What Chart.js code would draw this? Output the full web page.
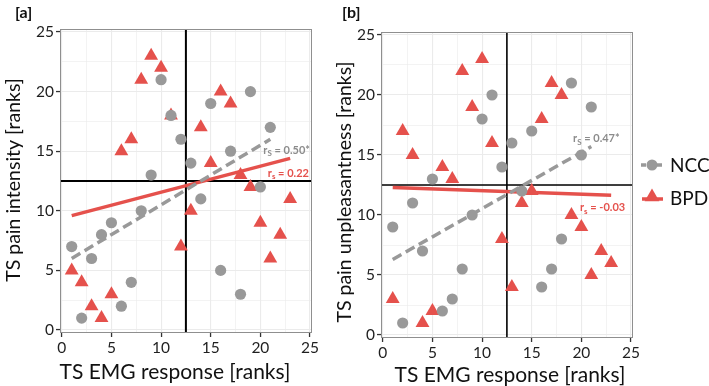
<!DOCTYPE html>
<html lang="en">
<head>
  <meta charset="UTF-8">
  <title>TS EMG response vs TS pain ranks</title>
  <script src="https://cdn.jsdelivr.net/npm/chart.js"></script>
  <style>
    html, body { margin: 0; padding: 0; background: #fff; }
    #wrap { position: relative; width: 709px; height: 386px; }
    canvas { position: absolute; top: 0; }
  </style>
</head>
<body>
  <div id="wrap">
    <canvas id="chartA" width="330" height="386" style="left:0px"></canvas>
    <canvas id="chartB" width="379" height="386" style="left:330px"></canvas>
  </div>

  <script>
    // TS EMG response ranks (x) and pain ranks (y) per group
    const nccEmg = [1, 2, 3, 4, 5, 6, 7, 8, 9, 10, 11, 12, 13, 14, 15, 16, 17, 18, 19, 20, 21];
    const nccIntensity = [7, 1, 6, 8, 9, 2, 4, 10, 13, 21, 18, 16, 14, 11, 19, 5, 15, 3, 20, 12, 17];
    const nccUnpleasant = [9, 1, 11, 7, 13, 2, 3, 5.5, 10, 18, 20, 14, 16, 12, 17, 4, 5.5, 8, 21, 15, 19];

    const bpdEmg = [1, 2, 3, 4, 5, 6, 7, 8, 9, 10, 11, 12, 13, 14, 15, 16, 17, 18, 19, 20, 21, 22, 23];
    const bpdIntensity = [5, 4, 2, 1, 3, 15, 16, 21, 23, 22, 18, 7, 10, 17, 14, 20, 19, 13, 12, 9, 6, 8, 11];
    const bpdUnpleasant = [3, 17, 15, 1, 2, 14, 13, 22, 19, 23, 16, 8, 4, 11, 12, 18, 21, 20, 10, 9, 5, 7, 6];

    // fitted lines, end points
    const nccFitX = [1, 21];
    const nccFitIntensity = [6, 16];
    const nccFitUnpleasant = [6.3, 15.7];
    const bpdFitX = [1, 23];
    const bpdFitIntensity = [9.6, 14.4];
    const bpdFitUnpleasant = [12.3, 11.65];

    // median split lines
    const medianRank = 12.5;

    // correlation labels
    const rsLabelsA = [['S', ' = 0.50*'], ['s', ' = 0.22']];
    const rsLabelsB = [['S', ' = 0.47*'], ['s', ' = -0.03']];

    const AXIS_MIN = -0.18, AXIS_MAX = 25.2;
    const Y_MIN = -0.25, Y_MAX = 25.25;
    const FONT = 'Lato';
    const GREY = '#999999';
    const RED = '#e5514c';

    const toPts = (xs, ys) => xs.map((x, i) => ({ x: x, y: ys[i] }));
    const isMajor = v => Math.abs(v / 5 - Math.round(v / 5)) < 1e-6;

    function axis(pos, fitSize) {
      return {
        type: 'linear',
        position: pos,
        min: pos === 'left' ? Y_MIN : AXIS_MIN,
        max: pos === 'left' ? Y_MAX : AXIS_MAX,
        border: { display: false },
        grid: {
          color: '#ebebeb',
          lineWidth: c => (c.tick && isMajor(c.tick.value)) ? 1.1 : 0.6,
          tickLength: 4,
          tickWidth: 1.3,
          tickColor: c => (c.tick && isMajor(c.tick.value)) ? '#333' : 'rgba(0,0,0,0)'
        },
        ticks: {
          stepSize: 2.5,
          includeBounds: false,
          autoSkip: false,
          maxRotation: 0,
          padding: 2,
          color: '#1f1f1f',
          font: { family: FONT, size: 15.5 },
          callback: v => isMajor(v) ? v : ''
        },
        afterFit: s => {
          if (pos === 'left') s.width = fitSize; else s.height = fitSize;
        }
      };
    }

    // draws "r" with subscript then the rest
    function drawRs(ctx, x, y, sub, rest, color) {
      ctx.fillStyle = color;
      ctx.textAlign = 'left';
      ctx.textBaseline = 'alphabetic';
      ctx.font = 'bold 11px ' + FONT;
      ctx.fillText('r', x, y);
      let w = ctx.measureText('r').width;
      ctx.font = 'bold 8px ' + FONT;
      ctx.fillText(sub, x + w, y + 2.5);
      w += ctx.measureText(sub).width;
      ctx.font = 'bold 11px ' + FONT;
      ctx.fillText(rest, x + w, y);
    }

    function makePanel(id, p) {
      const ctx = document.getElementById(id).getContext('2d');

      const decor = {
        id: 'decor',
        afterDatasetsDraw(chart) {
          const c = chart.ctx, a = chart.chartArea;
          const sx = chart.scales.x, sy = chart.scales.y;
          c.save();
          // panel border
          c.strokeStyle = '#8f8f8f';
          c.lineWidth = 1;
          c.strokeRect(a.left + 0.5, a.top + 0.5, a.right - a.left - 1, a.bottom - a.top - 1);
          // rs labels
          drawRs(c, sx.getPixelForValue(p.greyLabelAt[0]), sy.getPixelForValue(p.greyLabelAt[1]),
            p.labels[0][0], p.labels[0][1], '#8c8c8c');
          drawRs(c, sx.getPixelForValue(p.redLabelAt[0]), sy.getPixelForValue(p.redLabelAt[1]),
            p.labels[1][0], p.labels[1][1], RED);
          c.restore();
        },
        afterDraw(chart) {
          const c = chart.ctx;
          c.save();
          c.fillStyle = '#111';
          // panel tag
          c.font = 'bold 16px ' + FONT;
          c.textAlign = 'left';
          c.textBaseline = 'middle';
          c.fillText(p.tag, p.tagPos[0], p.tagPos[1]);
          // axis titles
          c.font = '21px ' + FONT;
          c.textAlign = 'center';
          c.fillText('TS EMG response [ranks]', p.xTitlePos[0], p.xTitlePos[1]);
          c.font = '19.5px ' + FONT;
          c.translate(p.yTitlePos[0], p.yTitlePos[1]);
          c.rotate(-Math.PI / 2);
          c.fillText(p.yTitle, 0, 0);
          c.restore();

          if (p.legend) {
            c.save();
            // NCC key
            c.strokeStyle = GREY;
            c.lineWidth = 3.5;
            c.setLineDash([5, 3]);
            c.beginPath(); c.moveTo(311, 165); c.lineTo(334, 165); c.stroke();
            c.setLineDash([]);
            c.fillStyle = GREY;
            c.beginPath(); c.arc(322, 165, 5.5, 0, Math.PI * 2); c.fill();
            // BPD key
            c.strokeStyle = RED;
            c.beginPath(); c.moveTo(312, 199); c.lineTo(333, 199); c.stroke();
            c.fillStyle = RED;
            const r = 8.5;
            c.beginPath();
            c.moveTo(322, 197 - r);
            c.lineTo(322 + r * 0.866, 197 + r / 2);
            c.lineTo(322 - r * 0.866, 197 + r / 2);
            c.closePath(); c.fill();
            c.fillStyle = '#111';
            c.font = '19px ' + FONT;
            c.textAlign = 'left';
            c.textBaseline = 'middle';
            c.fillText('NCC', 340, 166);
            c.fillText('BPD', 340, 199);
            c.restore();
          }
        }
      };

      new Chart(ctx, {
        type: 'scatter',
        data: {
          datasets: [{
            label: 'NCC',
            data: toPts(nccEmg, p.ncc),
            backgroundColor: GREY,
            borderWidth: 0,
            pointStyle: 'circle',
            pointRadius: 5.6
          }, {
            label: 'BPD',
            data: toPts(bpdEmg, p.bpd),
            backgroundColor: RED,
            borderWidth: 0,
            pointStyle: 'triangle',
            pointRadius: 8
          }, {
            type: 'line',
            label: 'NCC fit',
            data: toPts(nccFitX, p.nccFit),
            borderColor: GREY,
            borderWidth: 3.5,
            borderDash: [10, 5],
            pointRadius: 0,
            fill: false
          }, {
            type: 'line',
            label: 'BPD fit',
            data: toPts(bpdFitX, p.bpdFit),
            borderColor: RED,
            borderWidth: 3.5,
            pointRadius: 0,
            fill: false
          }, {
            type: 'line',
            label: 'median x',
            data: [{ x: medianRank, y: Y_MIN }, { x: medianRank, y: Y_MAX }],
            borderColor: '#000',
            borderWidth: p.refWidth,
            pointRadius: 0,
            fill: false
          }, {
            type: 'line',
            label: 'median y',
            data: [{ x: AXIS_MIN, y: medianRank }, { x: AXIS_MAX, y: medianRank }],
            borderColor: '#000',
            borderWidth: p.refWidth,
            pointRadius: 0,
            fill: false
          }]
        },
        options: {
          responsive: false,
          animation: false,
          devicePixelRatio: 1,
          layout: { padding: p.padding },
          plugins: { legend: { display: false }, tooltip: { enabled: false } },
          scales: {
            x: axis('bottom', p.xAxisH),
            y: axis('left', p.yAxisW)
          }
        },
        plugins: [decor]
      });
    }

    makePanel('chartA', {
      ncc: nccIntensity, bpd: bpdIntensity,
      nccFit: nccFitIntensity, bpdFit: bpdFitIntensity,
      labels: rsLabelsA,
      greyLabelAt: [20.3, 14.77], redLabelAt: [20.75, 12.84],
      padding: { left: 0, right: 18, top: 29, bottom: 0 },
      xAxisH: 53, yAxisW: 60, refWidth: 2,
      tag: '[a]', tagPos: [15, 13],
      xTitlePos: [175, 372], yTitlePos: [14, 180],
      yTitle: 'TS pain intensity [ranks]'
    });

    makePanel('chartB', {
      ncc: nccUnpleasant, bpd: bpdUnpleasant,
      nccFit: nccFitUnpleasant, bpdFit: bpdFitUnpleasant,
      labels: rsLabelsB,
      greyLabelAt: [19.16, 16.08], redLabelAt: [19.86, 10.33],
      padding: { left: 0, right: 76, top: 32, bottom: 0 },
      xAxisH: 48, yAxisW: 51, refWidth: 1.6,
      tag: '[b]', tagPos: [12, 13],
      xTitlePos: [180, 375], yTitlePos: [15, 192],
      yTitle: 'TS pain unpleasantness [ranks]',
      legend: true
    });
  </script>
</body>
</html>
